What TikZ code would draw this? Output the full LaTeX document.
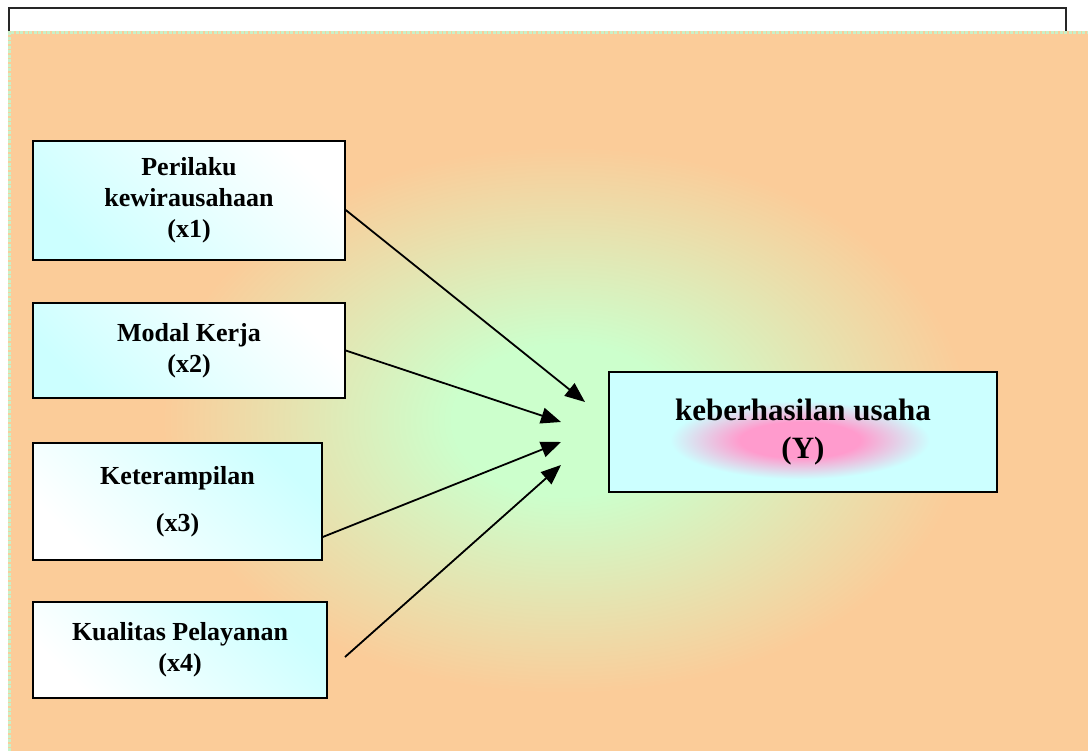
\documentclass[tikz,border=0pt]{standalone}
\usepackage{fontspec}
\setmainfont{Liberation Serif}
\usetikzlibrary{arrows.meta}
\definecolor{bgpeach}{RGB}{251,204,153}
\definecolor{bggreen}{RGB}{204,255,204}
\definecolor{boxcyan}{RGB}{204,255,255}
\definecolor{ypink}{RGB}{255,155,205}
\definecolor{dotgreen}{RGB}{200,240,200}
\pgfdeclareradialshading{bgglow}{\pgfpoint{0bp}{0bp}}{color(0bp)=(bggreen); color(5bp)=(bggreen); color(18bp)=(bgpeach); color(50bp)=(bgpeach)}
\pgfdeclareradialshading{yglow}{\pgfpoint{0bp}{0bp}}{color(0bp)=(ypink); color(6bp)=(ypink); color(13bp)=(boxcyan); color(50bp)=(boxcyan)}
\tikzset{
  varbox/.style={draw=black, line width=1.5pt, shading=axis, shading angle=-45,
    inner sep=0pt, align=center, font=\fontsize{26}{31}\selectfont\bfseries},
  cyanlow/.style={top color=white, bottom color=boxcyan, shading angle=-45},
  cyanhigh/.style={top color=boxcyan, bottom color=white, shading angle=-45},
  ybox/.style={draw=black, line width=1.5pt, fill=boxcyan, inner sep=0pt, align=center,
    font=\fontsize{31}{38}\selectfont\bfseries},
  arr/.style={line width=1.8pt, -{Triangle[length=20pt,width=16pt]}}
}
\begin{document}
\begin{tikzpicture}[x=1pt,y=-1pt]
\useasboundingbox (0,0) rectangle (1088,751);
% outer frame and background
\draw[line width=1.5pt, black!85] (9,40) -- (9,8) -- (1066,8) -- (1066,40);
\fill[bgpeach] (8,31) rectangle (1088,751);
\begin{scope}
  \clip (8,31) rectangle (1088,751);
  \shade[shading=bgglow] (565,420) ellipse [x radius=560, y radius=380];
\end{scope}
\draw[dotgreen, line width=3pt, dash pattern=on 3pt off 1.5pt] (9.5,751) -- (9.5,32.5) -- (1088,32.5);
% boxes
\node[varbox, cyanlow, minimum width=312pt, minimum height=119pt] (b1) at (189,200.5) {Perilaku\\kewirausahaan\\(x1)};
\node[varbox, cyanlow, minimum width=312pt, minimum height=95pt] (b2) at (189,350.5) {Modal Kerja\\(x2)};
\node[varbox, cyanhigh, minimum width=289pt, minimum height=117pt] (b3) at (177.5,501.5) {Keterampilan\\[16pt](x3)};
\node[varbox, cyanhigh, minimum width=294pt, minimum height=96pt] (b4) at (180,650) {Kualitas Pelayanan\\(x4)};
\node[ybox, minimum width=388pt, minimum height=120pt,
  path picture={\shade[shading=yglow] ([xshift=-3pt,yshift=-8pt]path picture bounding box.center) ellipse [x radius=250, y radius=75];}] (y) at (803,432) {keberhasilan usaha\\(Y)};
% arrow ends
\coordinate (t1) at (585,402);
\coordinate (t2) at (561,422);
\coordinate (t3) at (561,442);
\coordinate (t4) at (561,465);
\coordinate (s4) at (345,657);
\draw[arr] ([yshift=-9.5pt]b1.east) -- (t1);
\draw[arr] (b2.east) -- (t2);
\draw[arr] ([yshift=-35.5pt]b3.east) -- (t3);
\draw[arr] (s4) -- (t4);
\end{tikzpicture}
\end{document}
